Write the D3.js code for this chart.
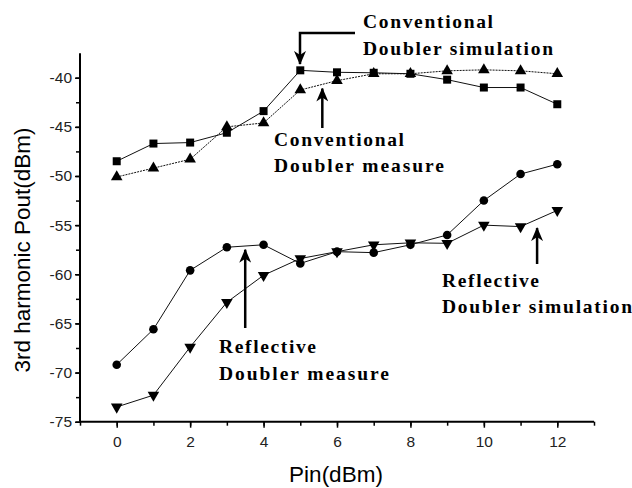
<!DOCTYPE html>
<html><head><meta charset="utf-8">
<script src="https://cdn.jsdelivr.net/npm/d3@7"></script>
<style>body{margin:0;background:#fff}svg{display:block}</style>
</head><body>
<script>
const pin = [0,1,2,3,4,5,6,7,8,9,10,11,12];
const convSim = [-48.5,-46.7,-46.6,-45.6,-43.4,-39.25,-39.45,-39.5,-39.6,-40.2,-41.0,-41.0,-42.7];
const convMeas = [-50.1,-49.2,-48.3,-45.0,-44.6,-41.25,-40.3,-39.6,-39.6,-39.3,-39.2,-39.3,-39.6];
const reflMeas = [-69.2,-65.6,-59.6,-57.25,-57.0,-58.9,-57.7,-57.8,-57.0,-56.0,-52.5,-49.8,-48.8];
const reflSim = [-73.5,-72.3,-67.4,-62.85,-60.1,-58.4,-57.7,-57.0,-56.8,-56.85,-55.0,-55.15,-53.5];
const xTicks = [0,2,4,6,8,10,12];
const yTicks = [-40,-45,-50,-55,-60,-65,-70,-75];
const xLabel = "Pin(dBm)";
const yLabel = "3rd harmonic Pout(dBm)";
const notes = [
  {lines:["Conventional","Doubler simulation"], x:5.0, y:-38.6},
  {lines:["Conventional","Doubler measure"], x:5.6, y:-40.8},
  {lines:["Reflective","Doubler measure"], x:3.5, y:-57.3},
  {lines:["Reflective","Doubler simulation"], x:11.45, y:-55.1}
];

const W=632,H=488;
const svg=d3.select("body").append("svg").attr("width",W).attr("height",H);
const x=d3.scaleLinear().domain([-1,13]).range([80,594]);
const y=d3.scaleLinear().domain([-75,-40]).range([421.7,77.7]);
const yTop=-37.5;
const sf="Liberation Sans, Arial, sans-serif";

// axes
const gx=svg.append("g").attr("transform","translate(0,"+y(-75)+")");
gx.call(d3.axisBottom(x).tickValues(d3.range(-1,14,1)).tickSize(4).tickFormat(""));
gx.append("g").call(d3.axisBottom(x).tickValues(xTicks).tickSize(6).tickPadding(8).tickFormat(d3.format("d")));
const gy=svg.append("g").attr("transform","translate("+x(-1)+",0)");
gy.call(d3.axisLeft(y).tickValues(d3.range(-75,-37.5,2.5)).tickSize(4).tickFormat(""));
gy.append("g").call(d3.axisLeft(y).tickValues(yTicks).tickSize(5).tickPadding(3).tickFormat(d=>d));
svg.selectAll(".domain").remove();
svg.append("line").attr("x1",x(-1)).attr("x2",x(13)).attr("y1",y(-75)).attr("y2",y(-75)).attr("stroke","#000").attr("stroke-width",2);
svg.append("line").attr("x1",x(-1)).attr("x2",x(-1)).attr("y1",y(-75)).attr("y2",y(yTop)).attr("stroke","#000").attr("stroke-width",2);
svg.selectAll(".tick line").attr("stroke","#000").attr("stroke-width",1.5);
svg.selectAll(".tick text").attr("font-family",sf).attr("font-size",15.5).attr("fill","#222");

svg.append("text").attr("x",336).attr("y",482).attr("text-anchor","middle")
  .attr("font-family",sf).attr("font-size",22.5).text(xLabel);
svg.append("text").attr("transform","translate(30,250) rotate(-90)").attr("text-anchor","middle")
  .attr("font-family",sf).attr("font-size",22.5).text(yLabel);

const line=d3.line().x((d,i)=>x(pin[i])).y(d=>y(d));
function series(vals,dash,sym,size,rot){
  svg.append("path").datum(vals).attr("d",line).attr("fill","none").attr("stroke","#111")
    .attr("stroke-width",1).attr("stroke-dasharray",dash);
  svg.append("g").selectAll("path").data(vals).join("path")
    .attr("d",d3.symbol().type(sym).size(size))
    .attr("transform",(d,i)=>"translate("+x(pin[i])+","+y(d)+") rotate("+rot+")")
    .attr("fill","#000");
}
series(convSim,null,d3.symbolSquare,64,0);
series(convMeas,"2,1",d3.symbolTriangle,58,0);
series(reflMeas,null,d3.symbolCircle,58,0);
series(reflSim,null,d3.symbolTriangle,58,180);

// annotations
const tf="Liberation Serif, Times New Roman, serif";
const widths={"Conventional":130,"Doubler simulation":190,"Doubler measure":170,"Reflective":97};
function txt(lines,tx,ty,gap){
  lines.forEach((l,i)=>svg.append("text").attr("font-family",tf).attr("font-weight","bold")
    .attr("font-size",19.5).attr("fill","#000").attr("x",tx).attr("y",ty+i*gap)
    .attr("textLength",widths[l]).attr("lengthAdjust","spacing").text(l));
}
svg.append("defs").append("marker").attr("id","ah").attr("viewBox","0 0 14 12").attr("refX",13).attr("refY",6)
  .attr("markerUnits","userSpaceOnUse").attr("markerWidth",14).attr("markerHeight",12).attr("orient","auto-start-reverse")
  .append("path").attr("d","M0,0 L14,6 L0,12 L4,6 Z").attr("fill","#000");
function arrow(pts){
  svg.append("polyline").attr("points",pts.map(p=>p.join(",")).join(" ")).attr("fill","none")
    .attr("stroke","#000").attr("stroke-width",2.5).attr("marker-end","url(#ah)");
}
// conv sim
arrow([[355,33],[300,33],[300,y(notes[0].y)]]);
txt(notes[0].lines,363,28,27);
// conv meas
arrow([[x(notes[1].x),128],[x(notes[1].x),y(notes[1].y)+3]]);
txt(notes[1].lines,274,146,26);
// refl meas
arrow([[x(notes[2].x),328],[x(notes[2].x),y(notes[2].y)+2]]);
txt(notes[2].lines,219,353,27);
// refl sim
arrow([[x(notes[3].x),264],[x(notes[3].x),y(notes[3].y)+2]]);
txt(notes[3].lines,442,287,26);
</script>
</body></html>
